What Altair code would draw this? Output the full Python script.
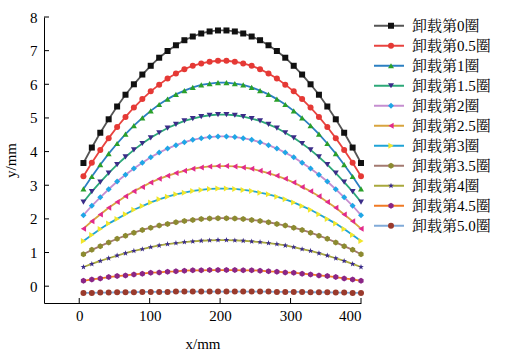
import altair as alt
import pandas as pd

# ---------------- data ----------------
x_mm = [6.0, 17.9, 29.9, 41.8, 53.8, 65.7, 77.6, 89.6, 101.5, 113.5, 125.4, 137.3,
        149.3, 161.2, 173.2, 185.1, 197.0, 209.0, 220.9, 232.8, 244.8, 256.7, 268.7,
        280.6, 292.5, 304.5, 316.4, 328.4, 340.3, 352.2, 364.2, 376.1, 388.1, 400.0]

names = ["卸载第0圈", "卸载第0.5圈", "卸载第1圈", "卸载第1.5圈", "卸载第2圈", "卸载第2.5圈",
         "卸载第3圈", "卸载第3.5圈", "卸载第4圈", "卸载第4.5圈", "卸载第5.0圈"]

y_0 = [3.66, 4.12, 4.56, 4.96, 5.34, 5.69, 6.00, 6.29, 6.55, 6.79, 6.99, 7.16, 7.31, 7.42, 7.51, 7.57, 7.60,
       7.60, 7.57, 7.51, 7.42, 7.31, 7.16, 6.99, 6.79, 6.55, 6.29, 6.00, 5.69, 5.34, 4.96, 4.56, 4.12, 3.66]
y_05 = [3.27, 3.67, 4.05, 4.40, 4.73, 5.03, 5.31, 5.56, 5.79, 5.99, 6.17, 6.32, 6.45, 6.55, 6.62, 6.67, 6.70,
        6.70, 6.67, 6.62, 6.55, 6.45, 6.32, 6.17, 5.99, 5.79, 5.56, 5.31, 5.03, 4.73, 4.40, 4.05, 3.67, 3.27]
y_1 = [2.89, 3.26, 3.61, 3.94, 4.24, 4.52, 4.77, 5.00, 5.21, 5.40, 5.56, 5.70, 5.81, 5.91, 5.98, 6.02, 6.05,
       6.05, 6.02, 5.98, 5.91, 5.81, 5.70, 5.56, 5.40, 5.21, 5.00, 4.77, 4.52, 4.24, 3.94, 3.61, 3.26, 2.89]
y_15 = [2.50, 2.81, 3.09, 3.36, 3.61, 3.84, 4.05, 4.24, 4.41, 4.56, 4.70, 4.81, 4.91, 4.98, 5.04, 5.08, 5.10,
        5.10, 5.08, 5.04, 4.98, 4.91, 4.81, 4.70, 4.56, 4.41, 4.24, 4.05, 3.84, 3.61, 3.36, 3.09, 2.81, 2.50]
y_2 = [2.11, 2.39, 2.64, 2.88, 3.11, 3.31, 3.50, 3.67, 3.83, 3.97, 4.09, 4.19, 4.28, 4.35, 4.40, 4.43, 4.45,
       4.45, 4.43, 4.40, 4.35, 4.28, 4.19, 4.09, 3.97, 3.83, 3.67, 3.50, 3.31, 3.11, 2.88, 2.64, 2.39, 2.11]
y_25 = [1.71, 1.93, 2.13, 2.33, 2.50, 2.67, 2.82, 2.95, 3.08, 3.19, 3.28, 3.36, 3.43, 3.49, 3.53, 3.56, 3.57,
        3.57, 3.56, 3.53, 3.49, 3.43, 3.36, 3.28, 3.19, 3.08, 2.95, 2.82, 2.67, 2.50, 2.33, 2.13, 1.93, 1.71]
y_3 = [1.34, 1.52, 1.70, 1.86, 2.00, 2.14, 2.27, 2.38, 2.49, 2.58, 2.66, 2.73, 2.78, 2.83, 2.86, 2.89, 2.90,
       2.90, 2.89, 2.86, 2.83, 2.78, 2.73, 2.66, 2.58, 2.49, 2.38, 2.27, 2.14, 2.00, 1.86, 1.70, 1.52, 1.34]
y_35 = [0.95, 1.08, 1.19, 1.30, 1.41, 1.50, 1.59, 1.67, 1.74, 1.80, 1.85, 1.90, 1.94, 1.97, 2.00, 2.01, 2.02,
        2.02, 2.01, 2.00, 1.97, 1.94, 1.90, 1.85, 1.80, 1.74, 1.67, 1.59, 1.50, 1.41, 1.30, 1.19, 1.08, 0.95]
y_4 = [0.57, 0.66, 0.75, 0.83, 0.91, 0.98, 1.05, 1.10, 1.16, 1.21, 1.25, 1.28, 1.31, 1.33, 1.35, 1.36, 1.37,
       1.37, 1.36, 1.35, 1.33, 1.31, 1.28, 1.25, 1.21, 1.16, 1.10, 1.05, 0.98, 0.91, 0.83, 0.75, 0.66, 0.57]
y_45 = [0.16, 0.20, 0.23, 0.27, 0.30, 0.32, 0.35, 0.37, 0.40, 0.41, 0.43, 0.44, 0.46, 0.47, 0.47, 0.48, 0.48,
        0.48, 0.48, 0.47, 0.47, 0.46, 0.44, 0.43, 0.41, 0.40, 0.37, 0.35, 0.32, 0.30, 0.27, 0.23, 0.20, 0.16]
y_5 = [-0.20, -0.20, -0.19, -0.19, -0.18, -0.18, -0.18, -0.17, -0.17, -0.17, -0.17, -0.16, -0.16, -0.16, -0.16, -0.16, -0.16,
       -0.16, -0.16, -0.16, -0.16, -0.16, -0.16, -0.17, -0.17, -0.17, -0.17, -0.18, -0.18, -0.18, -0.19, -0.19, -0.20, -0.20]

series = [y_0, y_05, y_1, y_15, y_2, y_25, y_3, y_35, y_4, y_45, y_5]

x_ticks = [0, 100, 200, 300, 400]
y_ticks = [0, 1, 2, 3, 4, 5, 6, 7, 8]

# ---------------- styles ----------------
line_colors = ["#555555", "#e8433f", "#2b7fc2", "#2ca878", "#c58ed0", "#d8a43e",
               "#1fa3d6", "#a37a70", "#a9a83c", "#f07a24", "#80aad8"]
marker_colors = ["#111111", "#e53935", "#2aa02a", "#3b2c88", "#1fa6e6", "#e22a8c",
                 "#f2e62a", "#8c8a30", "#3a2b8a", "#8a2586", "#9a3a2c"]
hexagon = "M0,-1L0.866,-0.5L0.866,0.5L0,1L-0.866,0.5L-0.866,-0.5Z"
star = ("M0,-1L0.235,-0.324L0.951,-0.309L0.38,0.124L0.588,0.809L0,0.4L-0.588,0.809"
        "L-0.38,0.124L-0.951,-0.309L-0.235,-0.324Z")
shapes = ["square", "circle", "triangle-up", "triangle-down", "diamond", "triangle-left",
          "triangle-right", hexagon, star, hexagon, "circle"]

# line legend uses its own (visually identical) labels so Vega-Lite keeps it separate
line_names = [n + " " for n in names]

rows = []
for name, lname, ys in zip(names, line_names, series):
    for xv, yv in zip(x_mm, ys):
        rows.append({"series": name, "line_series": lname, "x": xv, "y": yv})
df = pd.DataFrame(rows)
df_xt = pd.DataFrame({"x": x_ticks})
df_yt = pd.DataFrame({"y": y_ticks})

serif = "Liberation Serif"
cjk = "Liberation Serif, Noto Serif CJK SC, Noto Sans CJK SC"

xscale = alt.Scale(domain=[-50, 400], nice=False, zero=False)
yscale = alt.Scale(domain=[-0.5, 8], nice=False, zero=False)

xaxis = alt.Axis(values=x_ticks, tickSize=0, labelFont=serif, labelFontSize=15,
                 labelColor="black", labelPadding=5, domainColor="black", domainWidth=1,
                 grid=False, title="x/mm", titleFont=serif, titleFontSize=15,
                 titleFontWeight="normal", titleColor="black", titlePadding=13)
yaxis = alt.Axis(values=y_ticks, tickSize=0, labelFont=serif, labelFontSize=15,
                 labelColor="black", labelPadding=7, domainColor="black", domainWidth=1,
                 grid=False, title="y/mm", titleFont=serif, titleFontSize=15,
                 titleFontWeight="normal", titleColor="black", titlePadding=11)

X = alt.X("x:Q", scale=xscale, axis=xaxis)
Y = alt.Y("y:Q", scale=yscale, axis=yaxis)

lines = alt.Chart(df).mark_line(strokeWidth=1.8).encode(
    x=X, y=Y,
    stroke=alt.Stroke("line_series:N", scale=alt.Scale(domain=line_names, range=line_colors),
                      legend=alt.Legend(orient="none", legendX=329, legendY=-1, title=None,
                                        symbolType="stroke", symbolSize=900, symbolStrokeWidth=2,
                                        clipHeight=19.5, rowPadding=0, padding=0,
                                        labelFont=cjk, labelFontSize=15, labelColor="black",
                                        labelOffset=7, labelLimit=200)),
)

marker_legend = alt.Legend(orient="none", legendX=344, legendY=-1, title=None,
                           symbolSize=36, symbolStrokeWidth=0, clipHeight=19.5, rowPadding=0,
                           padding=0, labelExpr="''", labelFontSize=1, labelOffset=0)
points = alt.Chart(df).mark_point(filled=True, size=36, opacity=1, strokeWidth=0).encode(
    x=X, y=Y,
    fill=alt.Fill("series:N", scale=alt.Scale(domain=names, range=marker_colors), legend=marker_legend),
    shape=alt.Shape("series:N", scale=alt.Scale(domain=names, range=shapes), legend=marker_legend),
)

xt = alt.Chart(df_xt).mark_rule(color="black", strokeWidth=1).encode(
    x=X, y=alt.value(286), y2=alt.value(281))
yt = alt.Chart(df_yt).mark_rule(color="black", strokeWidth=1).encode(
    y=Y, x=alt.value(0), x2=alt.value(5))

chart = alt.layer(lines, points, xt, yt).properties(
    width=317, height=286,
    autosize=alt.AutoSizeParams(type="none"),
    padding={"left": 44, "top": 17, "right": 154, "bottom": 53},
    background="white",
).configure_view(stroke=None)

chart.save("out.html", embed_options={"renderer": "svg", "actions": False})
